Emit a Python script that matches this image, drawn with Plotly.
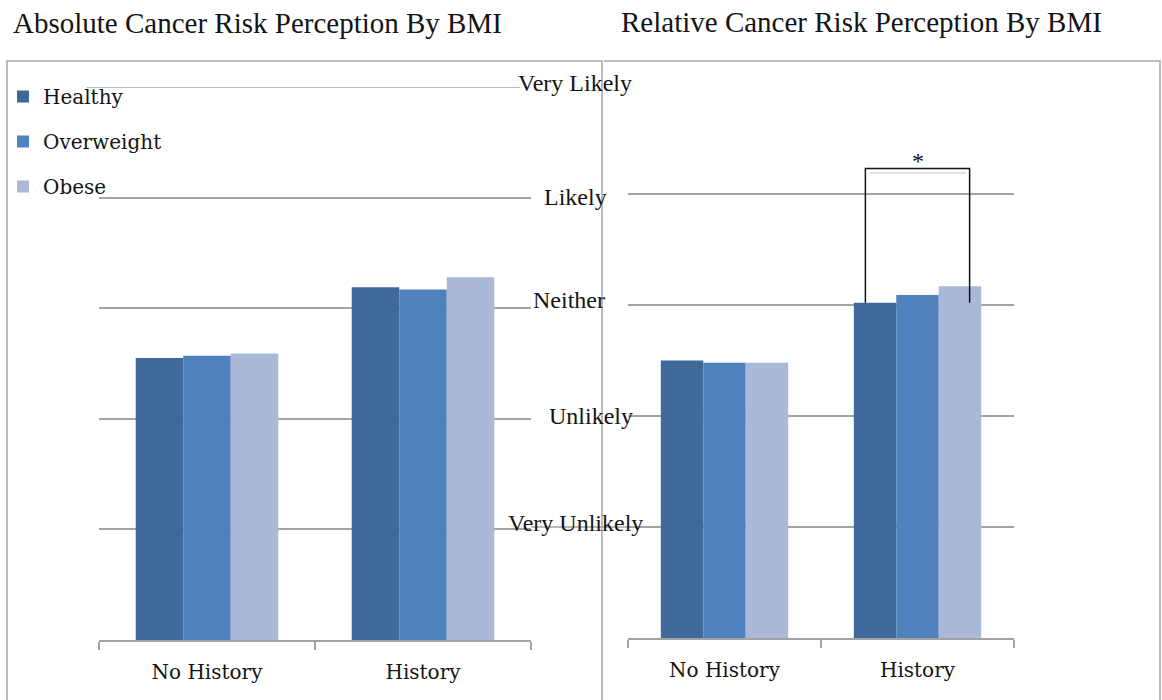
import plotly.graph_objects as go

W, H = 1162, 700

# Data (1 = Very Unlikely ... 5 = Very Likely)
categories = ["No History", "History"]
series_names = ["Healthy", "Overweight", "Obese"]
series_colors = ["#41689A", "#4F81BD", "#AAB9D7"]
absolute_vals = {
    "Healthy": [2.55, 3.19],
    "Overweight": [2.57, 3.17],
    "Obese": [2.59, 3.28],
}
relative_vals = {
    "Healthy": [2.50, 3.02],
    "Overweight": [2.48, 3.09],
    "Obese": [2.48, 3.17],
}
scale_labels = ["Very Unlikely", "Unlikely", "Neither", "Likely", "Very Likely"]
scale_vals = [1, 2, 3, 4, 5]
titles = ["Absolute Cancer Risk Perception By BMI", "Relative Cancer Risk Perception By BMI"]


def px(x):
    return x / W


def py(y):
    return 1 - y / H


GRID = "#A3A3A3"
SERIF = "Liberation Serif"
LABEL_FONT = "DejaVu Serif"
INK = "#141414"

fig = go.Figure()

for name, color in zip(series_names, series_colors):
    fig.add_trace(go.Bar(
        x=categories, y=absolute_vals[name], name=name,
        marker=dict(color=color, line=dict(width=0)),
        xaxis="x", yaxis="y", legendgroup=name, showlegend=True,
    ))
for name, color in zip(series_names, series_colors):
    fig.add_trace(go.Bar(
        x=categories, y=relative_vals[name], name=name,
        marker=dict(color=color, line=dict(width=0)),
        xaxis="x2", yaxis="y2", legendgroup=name, showlegend=False,
    ))

xaxis_common = dict(
    type="category", showline=True, linecolor=GRID, linewidth=1.5,
    ticks="outside", tickson="boundaries", ticklen=8, tickcolor=GRID, tickwidth=1.5,
    showgrid=False, zeroline=False,
    tickfont=dict(family=LABEL_FONT, size=20, color=INK),
    ticklabelstandoff=13, fixedrange=True,
)
yaxis_common = dict(
    range=[0, 5], showticklabels=False, showline=False, zeroline=False,
    gridcolor=GRID, gridwidth=1.5, ticks="", fixedrange=True,
)

fig.update_layout(
    width=W, height=H,
    margin=dict(l=0, r=0, t=0, b=0),
    paper_bgcolor="white", plot_bgcolor="rgba(0,0,0,0)",
    barmode="group", bargap=0.34, bargroupgap=0,
    xaxis=dict(domain=[px(99), px(531)], anchor="y", **xaxis_common),
    yaxis=dict(domain=[py(640), py(87)], tickvals=scale_vals[:-1], **yaxis_common),
    xaxis2=dict(domain=[px(628), px(1014)], anchor="y2", **xaxis_common),
    yaxis2=dict(domain=[py(638), py(83)], tickvals=scale_vals, **yaxis_common),
    legend=dict(
        x=px(3), y=py(77), xanchor="left", yanchor="top",
        traceorder="grouped", tracegroupgap=16,
        font=dict(family=LABEL_FONT, size=20, color=INK),
        bgcolor="rgba(0,0,0,0)", itemwidth=30,
    ),
    showlegend=True,
)

shapes = []
# chart frames
shapes.append(dict(type="path", xref="paper", yref="paper",
                   path=f"M {px(7)},{py(720)} L {px(7)},{py(61)} L {px(602)},{py(61)} L {px(602)},{py(720)}",
                   line=dict(color="#A6A6A6", width=1.5)))
shapes.append(dict(type="path", xref="paper", yref="paper",
                   path=f"M {px(604)},{py(61)} L {px(1160)},{py(61)} L {px(1160)},{py(720)}",
                   line=dict(color="#A6A6A6", width=1.5)))
# top gridline of left chart
shapes.append(dict(type="line", xref="paper", yref="y", x0=px(87), x1=px(520), y0=5, y1=5,
                   line=dict(color=GRID, width=1.5), layer="below"))
# gridline bridging the gap at Very Unlikely
shapes.append(dict(type="line", xref="paper", yref="y2", x0=px(531), x1=px(628), y0=1, y1=1,
                   line=dict(color=GRID, width=1.5), layer="below"))

# significance bracket between Healthy and Obese with history (right chart)
br_left, br_right, br_top = 1 - 0.27, 1 + 0.27, 4.23
h_val = relative_vals["Healthy"][1]
shapes.append(dict(type="path", xref="x2", yref="y2",
                   path=f"M {br_left},{h_val} L {br_left},{br_top} L {br_right},{br_top} L {br_right},{h_val}",
                   line=dict(color="#111111", width=1.5)))
shapes.append(dict(type="line", xref="x2", yref="y2", x0=br_left + 0.02, x1=br_right - 0.02,
                   y0=br_top - 0.04, y1=br_top - 0.04, line=dict(color="#D8D8D8", width=1.5)))
fig.update_layout(shapes=shapes)

annotations = []
annotations.append(dict(text=titles[0], x=px(11), y=py(23), xref="paper", yref="paper",
                        xanchor="left", yanchor="middle", showarrow=False,
                        font=dict(family=SERIF, size=29, color=INK)))
annotations.append(dict(text=titles[1], x=px(619), y=py(22), xref="paper", yref="paper",
                        xanchor="left", yanchor="middle", showarrow=False,
                        font=dict(family=SERIF, size=29, color=INK)))

# scale labels sit between the two panels
label_x = {"Very Unlikely": 575, "Unlikely": 591, "Neither": 569, "Likely": 575, "Very Likely": 575}
label_shift = {"Very Unlikely": 4, "Unlikely": 0, "Neither": 5, "Likely": -3, "Very Likely": 0}
for lab, v in zip(scale_labels, scale_vals):
    annotations.append(dict(text=lab, x=px(label_x[lab]), y=v, xref="paper", yref="y2",
                            xanchor="center", yanchor="middle", showarrow=False,
                            yshift=label_shift[lab],
                            font=dict(family=SERIF, size=24, color=INK)))

annotations.append(dict(text="*", x=1, y=br_top, xref="x2", yref="y2",
                        xanchor="center", yanchor="bottom", showarrow=False, yshift=-8,
                        font=dict(family=SERIF, size=24, color="#111111")))
fig.update_layout(annotations=annotations)

fig.write_html("out.html")
